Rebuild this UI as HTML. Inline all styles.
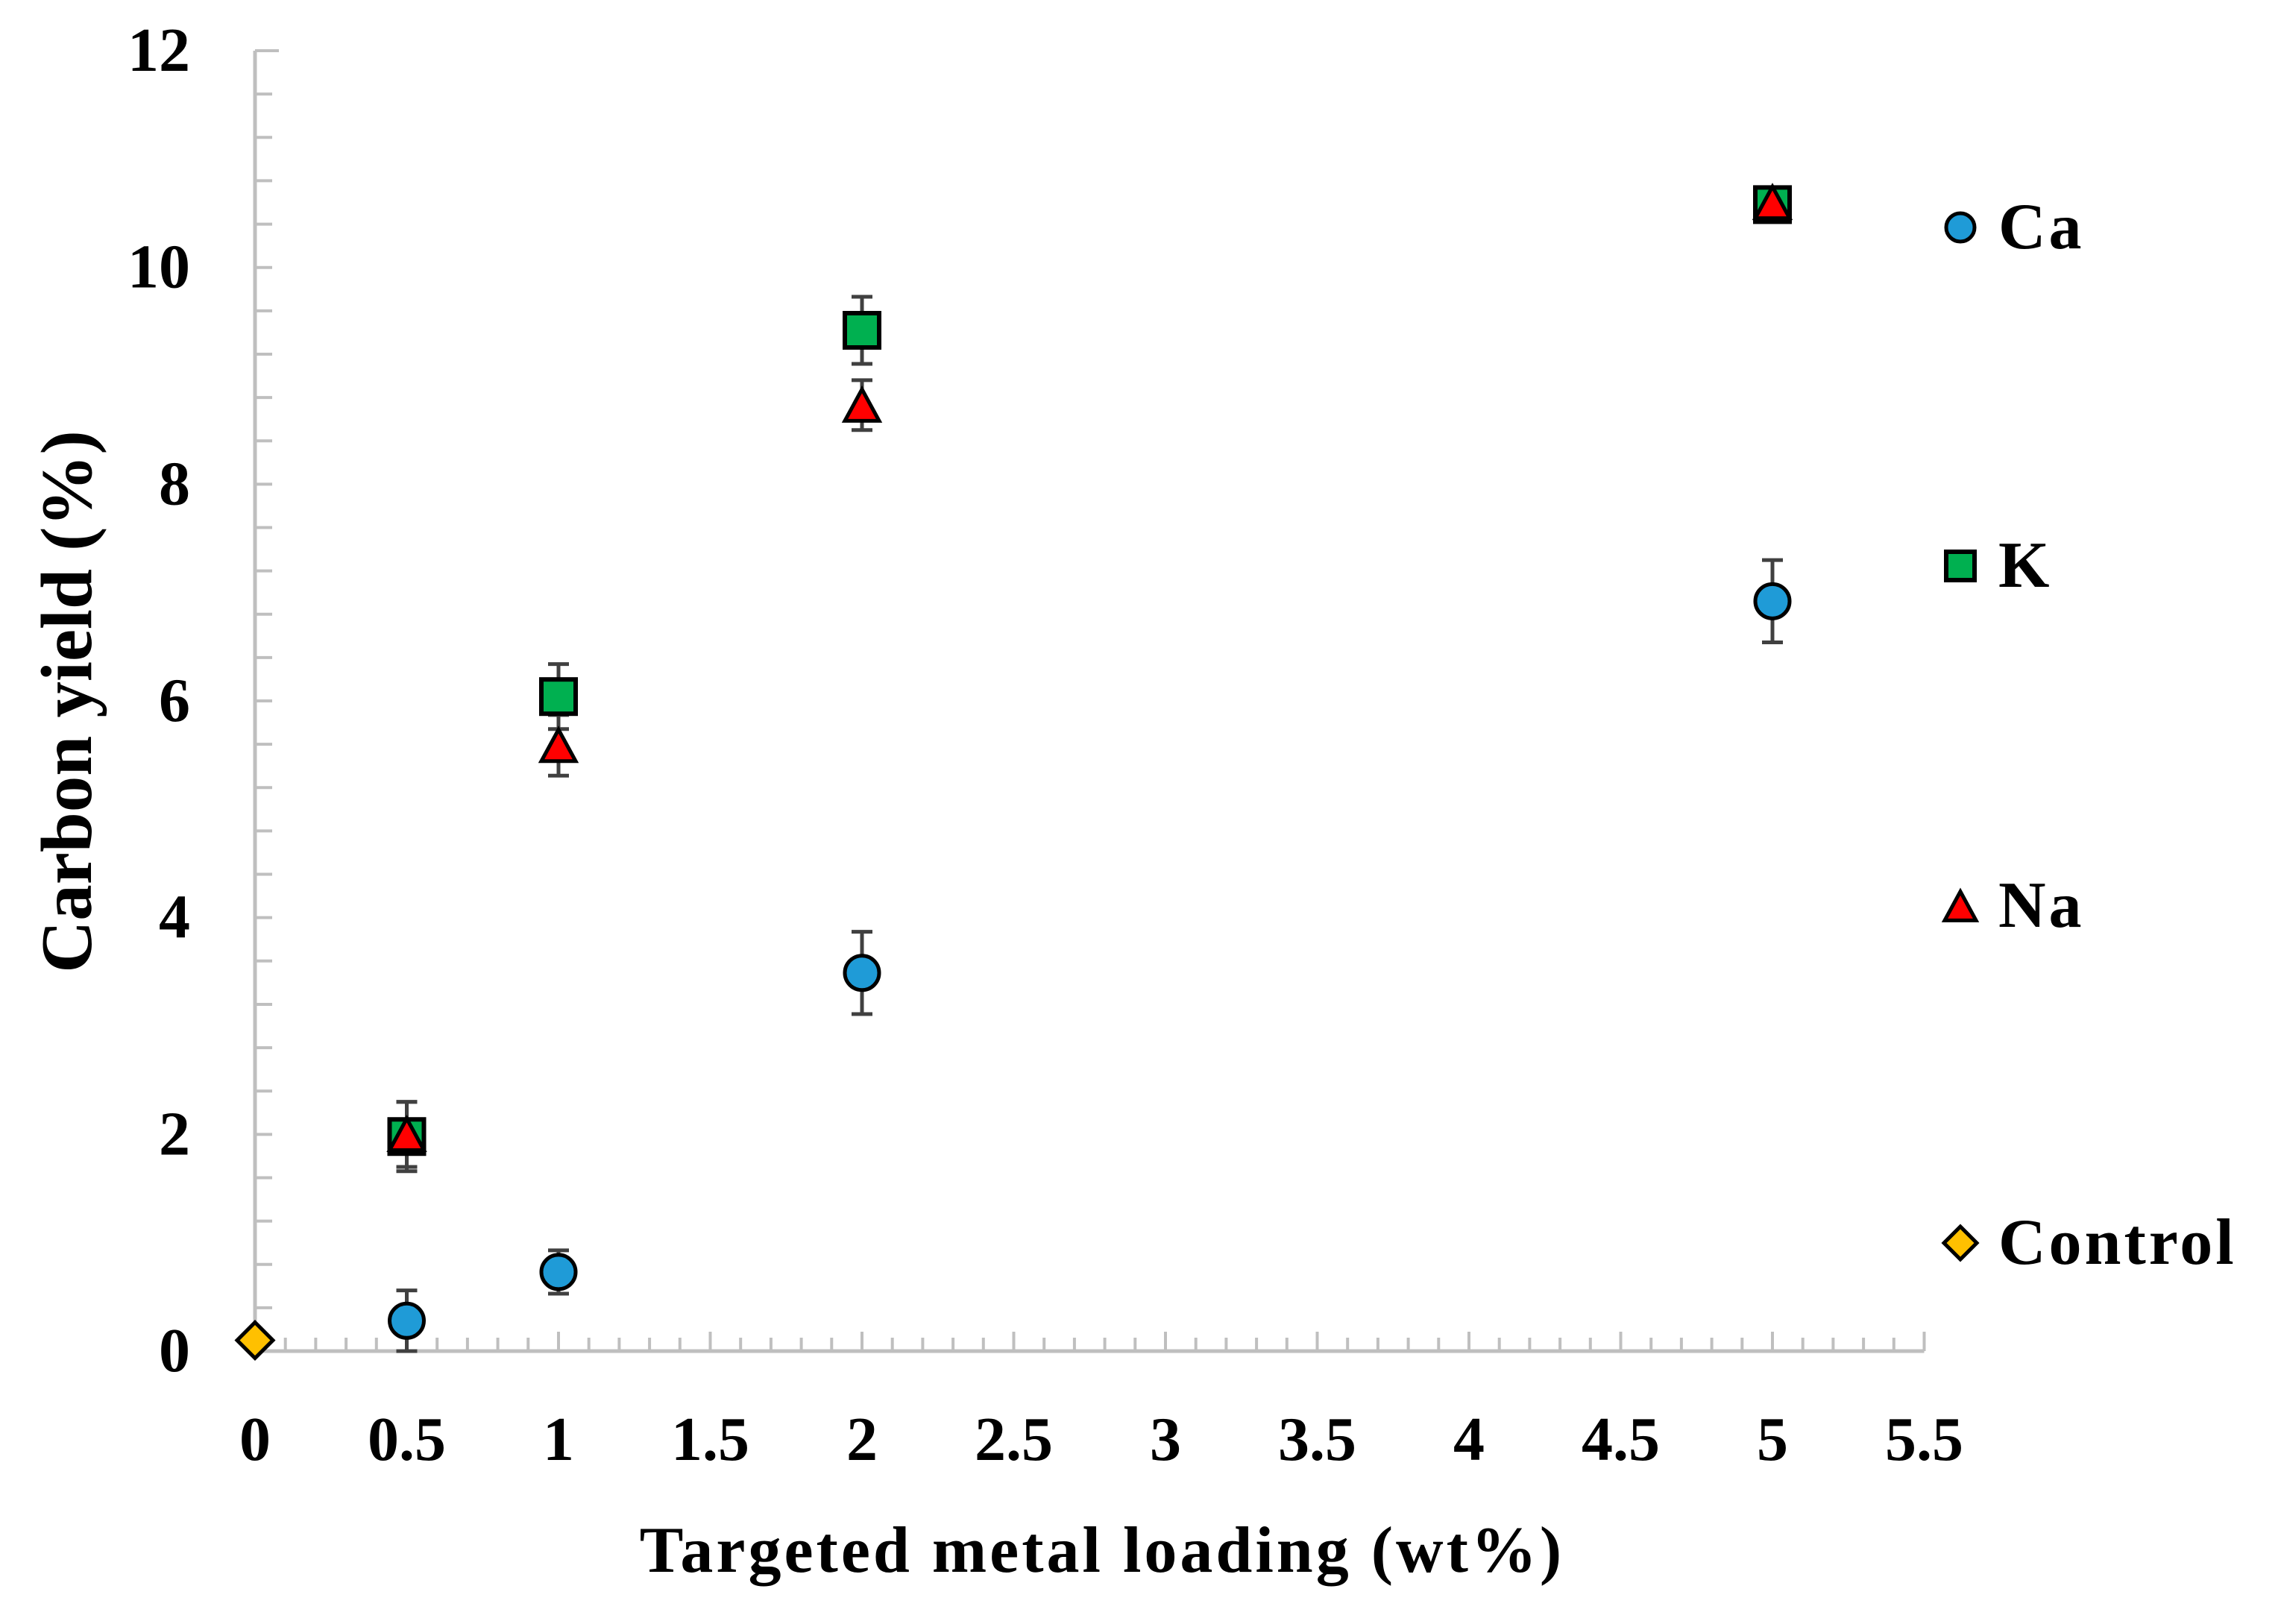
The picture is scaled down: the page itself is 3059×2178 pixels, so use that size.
<!DOCTYPE html>
<html><head><meta charset="utf-8"><style>
html,body{margin:0;padding:0;background:#fff;}
svg{display:block;}
text{font-family:"Liberation Serif",serif;font-weight:bold;fill:#000;}
</style></head><body>
<svg id="chart" width="3059" height="2178" viewBox="0 0 3059 2178" xmlns="http://www.w3.org/2000/svg">
<g id="axes"></g>
<g id="marks"></g>
<g id="legend"></g>
<text x="0" y="0" font-size="97" text-anchor="middle" transform="translate(122,941) rotate(-90)">Carbon yield (%)</text>
<text x="1478" y="2108" font-size="88" letter-spacing="4" text-anchor="middle">Targeted metal loading (wt%)</text>
</svg>
<script>
const xTicks = [0,0.5,1,1.5,2,2.5,3,3.5,4,4.5,5,5.5];
const xTickLabels = ["0","0.5","1","1.5","2","2.5","3","3.5","4","4.5","5","5.5"];
const yTicks = [0,2,4,6,8,10,12];
const xPos = [0.5,1,2,5];
const caVals = [0.28,0.73,3.49,6.92];
const caErr = [0.28,0.2,0.38,0.38];
const kVals = [1.98,6.04,9.42,10.58];
const kErr = [0.32,0.3,0.31,0.08];
const naVals = [2.0,5.59,8.73,10.6];
const naErr = [0.3,0.28,0.23,0.08];
const ctrlX = [0];
const ctrlVals = [0.1];
const legendNames = ["Ca","K","Na","Control"];

const NS="http://www.w3.org/2000/svg";
const X0=342, XS=407, Y0=1812, YS=145.33;
const sx=v=>X0+v*XS, sy=v=>Y0-v*YS;
function mk(tag,attrs,parent){const e=document.createElementNS(NS,tag);for(const k in attrs)e.setAttribute(k,attrs[k]);parent.appendChild(e);return e;}
const axes=document.getElementById('axes'), marks=document.getElementById('marks'), legend=document.getElementById('legend');
const AX='#bfbfbf';
let l=mk('line',{x1:sx(0),y1:sy(0),x2:sx(0),y2:sy(12),stroke:AX,'stroke-width':5},axes);


l=mk('line',{x1:sx(0)-2,y1:sy(0),x2:sx(5.5),y2:sy(0),stroke:AX,'stroke-width':5},axes);


for(let i=0;i<=30;i++){const v=i*0.4;const len=(i===30)?32:23;
 const t=mk('line',{x1:sx(0),y1:sy(v),x2:sx(0)+len,y2:sy(v),stroke:AX,'stroke-width':4},axes);
 
 }
for(let i=1;i<=55;i++){const v=i*0.1;const len=(i%5===0)?26:18;
 const t=mk('line',{x1:sx(v),y1:sy(0),x2:sx(v),y2:sy(0)-len,stroke:AX,'stroke-width':4},axes);
 
 }
yTicks.forEach(v=>{const t=mk('text',{x:255,y:sy(v)+27,'font-size':84,'text-anchor':'end'},axes);t.textContent=String(v);
 
 });
xTicks.forEach((v,i)=>{const t=mk('text',{x:sx(v),y:1958,'font-size':84,'text-anchor':'middle'},axes);t.textContent=xTickLabels[i];
 
 });

function errbar(x,v,e){const g=mk('g',{stroke:'#404040','stroke-width':5},marks);
 
 
 mk('line',{x1:sx(x),y1:sy(v-e),x2:sx(x),y2:sy(v+e)},g);
 mk('line',{x1:sx(x)-14,y1:sy(v+e),x2:sx(x)+14,y2:sy(v+e)},g);
 mk('line',{x1:sx(x)-14,y1:sy(v-e),x2:sx(x)+14,y2:sy(v-e)},g);}
function circle(cx,cy,r,p){return mk('circle',{cx:cx,cy:cy,r:r,fill:'#1f9bd7',stroke:'#000','stroke-width':5},p);}
function square(cx,cy,s,p){return mk('rect',{x:cx-s/2,y:cy-s/2,width:s,height:s,fill:'#00b050',stroke:'#000','stroke-width':6},p);}
function tri(cx,cy,w,p){const h=w*0.92;return mk('polygon',{points:`${cx},${cy-h/2} ${cx+w/2},${cy+h/2} ${cx-w/2},${cy+h/2}`,fill:'#ff0000',stroke:'#000','stroke-width':5,'stroke-linejoin':'miter'},p);}
function diamond(cx,cy,r,p){return mk('polygon',{points:`${cx},${cy-r} ${cx+r},${cy} ${cx},${cy+r} ${cx-r},${cy}`,fill:'#ffc000',stroke:'#000','stroke-width':5},p);}

xPos.forEach((x,i)=>{errbar(x,kVals[i],kErr[i]);errbar(x,naVals[i],naErr[i]);errbar(x,caVals[i],caErr[i]);});
xPos.forEach((x,i)=>{
 let m=square(sx(x),sy(kVals[i]),46,marks);
 
 
 m=tri(sx(x),sy(naVals[i]),46,marks);
 
 
 m=circle(sx(x),sy(caVals[i]),23,marks);
 
 
});
ctrlX.forEach((x,i)=>{const m=diamond(sx(x),sy(ctrlVals[i]),24,marks);
 
 });

const ly=[305,759,1215,1667];
const drawers=[(y)=>circle(2629,y,19,legend),(y)=>square(2629,y,38,legend),(y)=>tri(2629,y,42,legend),(y)=>diamond(2629,y,22,legend)];
legendNames.forEach((n,i)=>{const m=drawers[i](ly[i]);
 
 
 const t=mk('text',{x:2680,y:ly[i]+28,'font-size':88,'letter-spacing':4},legend);t.textContent=n;
 
 });
</script>
</body></html>
